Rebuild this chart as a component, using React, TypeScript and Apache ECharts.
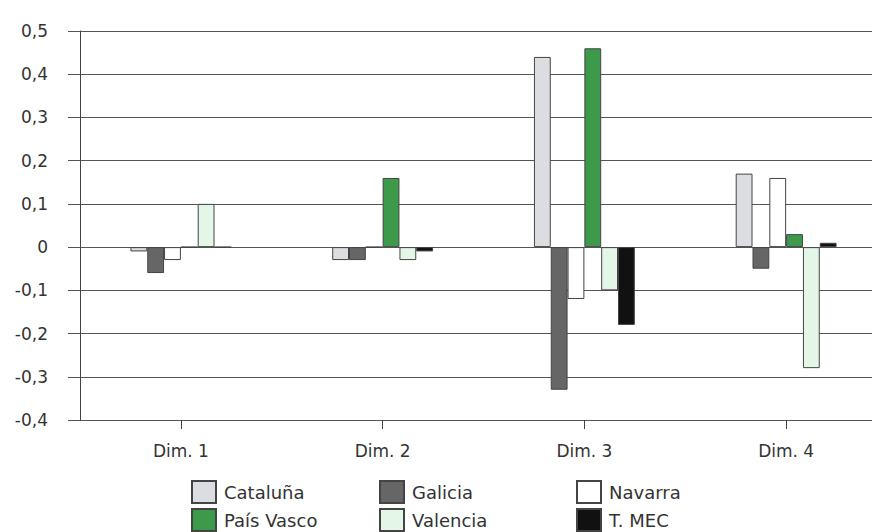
import React, { useEffect, useRef } from "react";
import * as echarts from "echarts";

const categories = ["Dim. 1", "Dim. 2", "Dim. 3", "Dim. 4"];
const seriesNames = ["Cataluña", "Galicia", "Navarra", "País Vasco", "Valencia", "T. MEC"];
const cataluna = [-0.01, -0.03, 0.44, 0.17];
const galicia = [-0.06, -0.03, -0.33, -0.05];
const navarra = [-0.03, 0, -0.12, 0.16];
const paisVasco = [0, 0.16, 0.46, 0.03];
const valencia = [0.1, -0.03, -0.1, -0.28];
const tMec = [0, -0.01, -0.18, 0.01];
const seriesValues = [cataluna, galicia, navarra, paisVasco, valencia, tMec];
const seriesColors = ["#dcdde1", "#666666", "#ffffff", "#3c9a4a", "#e4f6e8", "#111111"];
const yTicks = { min: -0.4, max: 0.5, interval: 0.1 };

export default function App() {
  const ref = useRef<HTMLDivElement>(null);
  useEffect(() => {
    if (!ref.current) return;
    const chart = echarts.init(ref.current, null, { renderer: "svg", width: 872, height: 532 });
    const font = "DejaVu Sans";
    const legendCols = [
      { left: 191, names: [seriesNames[0], seriesNames[3]] },
      { left: 379, names: [seriesNames[1], seriesNames[4]] },
      { left: 576, names: [seriesNames[2], seriesNames[5]] },
    ];
    const fmt = (v: number) => {
      const r = Math.round(v * 10) / 10;
      return r === 0 ? "0" : r.toFixed(1).replace(".", ",");
    };
    chart.setOption({
      animation: false,
      backgroundColor: "#ffffff",
      grid: [
        { left: 80, width: 807, top: 31, height: 389, containLabel: false, outerBoundsMode: "none" },
        { left: 80, right: 0, top: 31, height: 389, containLabel: false, outerBoundsMode: "none" },
      ],
      legend: legendCols.map((c) => ({
        data: c.names,
        orient: "vertical",
        left: c.left,
        top: 480,
        padding: 0,
        itemWidth: 24,
        itemHeight: 22,
        itemGap: 4,
        icon: "rect",
        textStyle: { fontFamily: font, fontSize: 18, color: "#333", padding: [0, 0, 0, 3] },
      })),
      xAxis: [
        {
          type: "category",
          gridIndex: 0,
          position: "bottom",
          data: categories,
          axisLine: { show: false, onZero: false },
          axisTick: { show: true, alignWithLabel: true, length: 9, lineStyle: { color: "#444" } },
          axisLabel: { fontFamily: font, fontSize: 17, color: "#333", margin: 22 },
          splitLine: { show: false },
        },
        { type: "value", gridIndex: 1, show: false, min: 0, max: 1 },
      ],
      yAxis: [
        {
          type: "value",
          gridIndex: 0,
          min: yTicks.min,
          max: yTicks.max,
          interval: yTicks.interval,
          axisLine: { show: true, lineStyle: { color: "#444", width: 1 } },
          axisTick: { show: true, inside: false, length: 12, lineStyle: { color: "#555" } },
          axisLabel: { fontFamily: font, fontSize: 17, color: "#333", margin: 32, formatter: fmt },
          splitLine: { show: false },
        },
        {
          type: "value",
          gridIndex: 1,
          min: yTicks.min,
          max: yTicks.max,
          interval: yTicks.interval,
          axisLine: { show: false },
          axisTick: { show: false },
          axisLabel: { show: false },
          splitLine: { show: true, lineStyle: { color: "#555", width: 1 } },
        },
      ],
      series: seriesNames.map((name, i) => ({
        name,
        type: "bar",
        xAxisIndex: 0,
        yAxisIndex: 0,
        data: seriesValues[i],
        barGap: "0%",
        barCategoryGap: "50%",
        z: 3,
        itemStyle: { color: seriesColors[i], borderColor: "#444", borderWidth: 1 },
      })),
    });
    return () => chart.dispose();
  }, []);
  return (
    <div
      ref={ref}
      style={{ position: "fixed", left: 0, top: 0, width: 872, height: 532, overflow: "hidden" }}
    />
  );
}
